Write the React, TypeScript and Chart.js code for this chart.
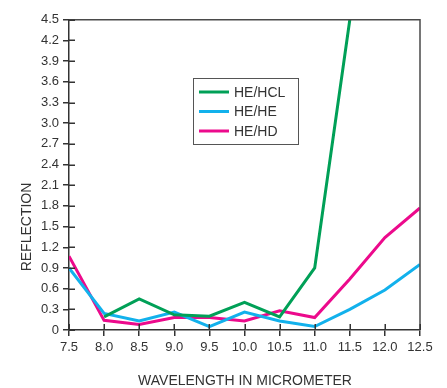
import React, { useEffect, useRef } from "react";
import { Chart, registerables } from "chart.js";

Chart.register(...registerables);

const wavelengths = [7.5, 8.0, 8.5, 9.0, 9.5, 10.0, 10.5, 11.0, 11.5, 12.0, 12.5];
const heHcl = [null, 0.19, 0.45, 0.22, 0.2, 0.4, 0.19, 0.9, 4.5, null, null];
const heHe = [0.9, 0.24, 0.13, 0.26, 0.05, 0.26, 0.13, 0.05, 0.3, 0.58, 0.95];
const heHd = [1.07, 0.14, 0.08, 0.18, 0.18, 0.13, 0.28, 0.18, 0.74, 1.34, 1.77];
const seriesNames = ["HE/HCL", "HE/HE", "HE/HD"];
const seriesColors = ["#00a057", "#12b1ec", "#ec0a8c"];
const yTitle = "REFLECTION";
const xTitle = "WAVELENGTH IN MICROMETER";

const tickFont = "'Liberation Sans Narrow', 'Arial Narrow', 'Liberation Sans', Arial, sans-serif";
const textFont = "'Liberation Sans', Arial, sans-serif";

function toPoints(vals: (number | null)[]) {
  const pts: { x: number; y: number }[] = [];
  vals.forEach((v, i) => {
    if (v !== null) pts.push({ x: wavelengths[i], y: v });
  });
  return pts;
}

const decorPlugin = {
  id: "decor",
  afterDraw(chart: any) {
    const { ctx, chartArea } = chart;
    const { left, right, top, bottom } = chartArea;
    const xs = chart.scales.x;
    const ys = chart.scales.y;
    ctx.save();
    // top and right frame
    ctx.strokeStyle = "#4a4a4a";
    ctx.lineWidth = 1.5;
    ctx.beginPath();
    ctx.moveTo(left, top);
    ctx.lineTo(right, top);
    ctx.lineTo(right, bottom);
    ctx.stroke();
    // inner tick marks
    ctx.strokeStyle = "#333";
    ctx.lineWidth = 1.5;
    ctx.beginPath();
    ys.ticks.forEach((t: any) => {
      const py = Math.round(ys.getPixelForValue(t.value)) + 0.25;
      ctx.moveTo(left, py);
      ctx.lineTo(left + 6, py);
    });
    xs.ticks.forEach((t: any) => {
      const px = Math.round(xs.getPixelForValue(t.value)) + 0.25;
      ctx.moveTo(px, bottom);
      ctx.lineTo(px, bottom - 6);
    });
    ctx.stroke();
    // axis titles
    ctx.fillStyle = "#333";
    ctx.font = "14px " + textFont;
    ctx.textAlign = "center";
    ctx.textBaseline = "middle";
    ctx.fillText(xTitle, 237, 373);
    ctx.save();
    ctx.translate(19, 219);
    ctx.rotate(-Math.PI / 2);
    ctx.fillText(yTitle, 0, 0);
    ctx.restore();
    // legend
    const bx = 185, by = 70, bw = 105, bh = 66;
    ctx.fillStyle = "#fff";
    ctx.fillRect(bx, by, bw, bh);
    ctx.strokeStyle = "#555";
    ctx.lineWidth = 1;
    ctx.strokeRect(bx + 0.5, by + 0.5, bw, bh);
    ctx.font = "14px " + textFont;
    ctx.textAlign = "left";
    seriesNames.forEach((name, i) => {
      const ly = by + 14 + i * 19.5;
      ctx.strokeStyle = seriesColors[i];
      ctx.lineWidth = 3;
      ctx.beginPath();
      ctx.moveTo(bx + 6, ly);
      ctx.lineTo(bx + 36, ly);
      ctx.stroke();
      ctx.fillStyle = "#333";
      ctx.fillText(name, bx + 41, ly + 1);
    });
    ctx.restore();
  },
};

export default function App() {
  const ref = useRef<HTMLCanvasElement | null>(null);
  useEffect(() => {
    if (!ref.current) return;
    const series = [heHcl, heHe, heHd];
    const chart = new Chart(ref.current, {
      type: "line",
      data: {
        datasets: series.map((s, i) => ({
          label: seriesNames[i],
          data: toPoints(s),
          borderColor: seriesColors[i],
          backgroundColor: seriesColors[i],
          borderWidth: 3,
          pointRadius: 0,
          tension: 0,
          fill: false,
        })),
      },
      options: {
        animation: false,
        responsive: true,
        maintainAspectRatio: false,
        layout: { padding: { left: 0, top: 10, right: 19, bottom: 0 } },
        plugins: { legend: { display: false }, tooltip: { enabled: false } },
        scales: {
          x: {
            type: "linear",
            min: 7.5,
            max: 12.5,
            afterFit: (s: any) => { s.height = 58; },
            ticks: {
              stepSize: 0.5,
              autoSkip: false,
              maxRotation: 0,
              padding: 4,
              color: "#333",
              font: { family: tickFont, size: 13 },
              callback: (v: any) => Number(v).toFixed(1),
            },
            grid: { drawOnChartArea: false, drawTicks: true, tickLength: 6, color: "#333", lineWidth: 1.5 },
            border: { color: "#333", width: 1.5 },
          },
          y: {
            min: 0,
            max: 4.5,
            afterFit: (s: any) => { s.width = 61; },
            ticks: {
              stepSize: 0.3,
              autoSkip: false,
              padding: 4,
              color: "#333",
              font: { family: tickFont, size: 13 },
              callback: (v: any) => (Math.abs(Number(v)) < 1e-9 ? "0" : Number(v).toFixed(1)),
            },
            grid: { drawOnChartArea: false, drawTicks: true, tickLength: 6, color: "#333", lineWidth: 1.5 },
            border: { color: "#333", width: 1.5 },
          },
        },
      },
      plugins: [decorPlugin],
    });
    return () => chart.destroy();
  }, []);
  return (
    <div style={{ width: 431, height: 380, position: "relative" }}>
      <canvas ref={ref} />
    </div>
  );
}
